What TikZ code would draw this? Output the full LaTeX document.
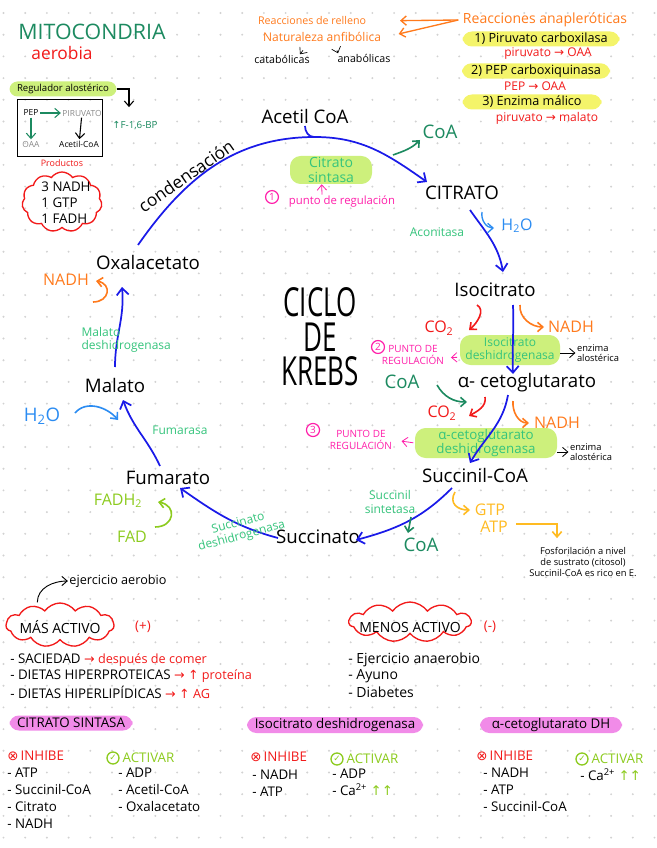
\documentclass[tikz,border=0pt]{standalone}
\usepackage{fontspec}
\usepackage{graphicx}
\setmainfont{Open Sans}
\newfontfamily\symfont{DejaVu Sans}
\usetikzlibrary{positioning,arrows.meta,shapes.symbols}

\definecolor{verdetit}{HTML}{1C8A60}
\definecolor{rojo}{HTML}{F21A1A}
\definecolor{naranja}{HTML}{FF7A1C}
\definecolor{azul}{HTML}{1A1AE8}
\definecolor{azulagua}{HTML}{2B8CF2}
\definecolor{verdeenz}{HTML}{35C47C}
\definecolor{lima}{HTML}{CDF07C}
\definecolor{limaosc}{HTML}{8CCB1E}
\definecolor{amarillo}{HTML}{F4F46A}
\definecolor{rosa}{HTML}{F18BE8}
\definecolor{magenta}{HTML}{FF1FAA}
\definecolor{oro}{HTML}{FFBB22}
\definecolor{puntos}{HTML}{D2D2D2}
\definecolor{gris}{HTML}{8A8A8A}

\newdimen\pxu \pxu=0.75pt
\newcommand{\fl}{{\symfont →}}
\newcommand{\sube}{{\symfont ↑}}
\newcommand{\inhibe}{{\symfont ⊗}}

\begin{document}
\begin{tikzpicture}[x=0.75pt,y=-0.75pt,>={Straight Barb[length=4pt,width=7pt]},
  met/.style={font=\fontsize{14}{16}\selectfont, inner sep=1pt},
  enz/.style={text=verdeenz, font=\fontsize{9}{10}\selectfont, align=center, inner sep=1pt},
  nota/.style={font=\fontsize{7}{8}\selectfont, align=left, inner sep=1pt},
  mini/.style={font=\fontsize{6.3}{7}\selectfont, inner sep=1pt},
  reg/.style={text=magenta, font=\fontsize{7.5}{8.5}\selectfont, align=center, inner sep=1pt},
  numreg/.style={circle, draw=magenta, text=magenta, line width=0.9pt, inner sep=1pt, font=\fontsize{7.5}{8}\selectfont},
  resalta/.style={fill=lima, rounded corners=8pt, text=verdeenz, align=center, inner sep=1pt},
  amar/.style={fill=amarillo, rounded corners=7pt, inner sep=1pt, font=\fontsize{9.5}{10}\selectfont},
  rosahl/.style={fill=rosa, rounded corners=7pt, inner sep=1pt, font=\fontsize{10}{11}\selectfont},
  ciclo/.style={draw=azul, line width=1.3pt, -{Straight Barb[length=5pt,width=9pt]}},
  flecha/.style={line width=1.2pt, ->},
  nube/.style={cloud, draw=rojo, line width=1pt, cloud puffs=11, cloud puff arc=110, cloud ignores aspect, inner sep=0pt},
  lista/.style={font=\fontsize{10}{12.75}\selectfont, align=left, anchor=west, inner sep=0pt},
  chk/.style={circle, draw=limaosc, text=limaosc, line width=1pt, inner sep=0pt, minimum size=9pt, font=\symfont\fontsize{6.5}{7}\selectfont}]
\fill[white, use as bounding box] (0,0) rectangle (656,848);

% dotted paper
\foreach \i in {0,...,30}
  \foreach \j in {0,...,38}
    \fill[puntos] (3.5+21.7*\i,13+21.7*\j) circle (0.8pt);

% title
\node[text=verdetit, font=\fontsize{16}{18}\selectfont] (mito) at (92,32) {MITOCONDRIA};
\node[text=rojo, font=\fontsize{13}{15}\selectfont] (aerobia) at (62,53) {aerobia};

% allosteric regulator box
\node[fill=lima, rounded corners=6pt, minimum width=107\pxu, minimum height=15\pxu, inner sep=1pt, font=\fontsize{7.2}{8}\selectfont] (regalo) at (63,89) {Regulador alostérico};
\node[draw, line width=0.9pt, minimum width=85\pxu, minimum height=57\pxu] (caja) at (60,128) {};
\node[mini] (pep) at (31,113) {PEP};
\node[mini, text=gris] (piru) at (82,113) {PIRUVATO};
\node[mini, text=gris] (oaa) at (31,144) {OAA};
\node[mini] (acoa) at (79,144) {Acetil-CoA};
\draw[->, verdetit, line width=0.8pt] (pep) -- (piru);
\draw[->, verdetit, line width=0.8pt] (pep) -- (oaa);
\draw[->, line width=0.8pt] (piru) -- (acoa);
\node[text=verdetit, font=\fontsize{7.3}{8}\selectfont] (fbp) at (135,126) {\sube F-1,6-BP};
\draw[->, line width=0.8pt] (regalo.east) -| ([shift={(-6,-10)}]fbp.north);

\node[text=rojo, font=\fontsize{6.7}{7}\selectfont] (productos) at (62,163) {Productos};
\node[nube, minimum width=80\pxu, minimum height=60\pxu] (nprod) at (62,202) {};
\node[align=left, font=\fontsize{10}{12}\selectfont, inner sep=0pt] (prod) at (66,203) {3 NADH\\1 GTP\\1 FADH};

% anaplerotic reactions
\node[text=naranja, font=\fontsize{8}{9}\selectfont] (relleno) at (312,21) {Reacciones de relleno};
\node[text=naranja, font=\fontsize{9}{10}\selectfont] (anfi) at (322,37) {Naturaleza anfibólica};
\node[text=naranja, font=\fontsize{10.5}{12}\selectfont] (anaple) at (545,20) {Reacciones anapleróticas};
\draw[->, naranja, line width=1pt, shorten >=22pt] (anaple.west) -- (relleno.east);
\draw[->, naranja, line width=1pt, shorten >=10pt] (anaple.west) -- (anfi.east);
\node[font=\fontsize{8}{9}\selectfont, inner sep=1pt] (cata) at (282,59) {catabólicas};
\node[font=\fontsize{8}{9}\selectfont, inner sep=1pt] (ana) at (364,58) {anabólicas};
\draw[->, line width=0.5pt] ([shift={(-19,4)}]anfi.south) -- ([shift={(18,1)}]cata.north);
\draw[->, line width=0.5pt] ([shift={(15,4)}]anfi.south) -- ([shift={(-26,1)}]ana.north);

\node[amar, minimum width=157\pxu, minimum height=15\pxu] (pc) at (541,39) {1) Piruvato carboxilasa};
\node[text=rojo, font=\fontsize{9}{10}\selectfont] (pcr) at (548,54) {piruvato \fl{} OAA};
\node[amar, minimum width=148\pxu, minimum height=15\pxu] (pepck) at (536,71) {2) PEP carboxiquinasa};
\node[text=rojo, font=\fontsize{9}{10}\selectfont] (pepckr) at (535,86) {PEP \fl{} OAA};
\node[amar, minimum width=139\pxu, minimum height=15\pxu] (malico) at (532,102) {3) Enzima málico};
\node[text=rojo, font=\fontsize{9}{10}\selectfont] (malicor) at (547,118) {piruvato \fl{} malato};

% enzyme highlights
\node[resalta, minimum width=82\pxu, minimum height=28\pxu, font=\fontsize{10.5}{11}\selectfont] (cs) at (331,170) {Citrato\\sintasa};
\node[resalta, minimum width=100\pxu, minimum height=30\pxu, font=\fontsize{9}{10}\selectfont] (idh) at (510,350) {Isocitrato\\deshidrogenasa};
\node[resalta, minimum width=142\pxu, minimum height=28\pxu, font=\fontsize{10}{10.5}\selectfont] (adh) at (486,443) {α-cetoglutarato\\deshidrogenasa};

% intermediates
\node[met] (acetil) at (305,117) {Acetil CoA};
\node[met] (citrato) at (462,193) {CITRATO};
\node[met] (isocit) at (495,290) {Isocitrato};
\node[met] (aceto) at (527,383) {α- cetoglutarato};
\node[met] (succoa) at (475,475) {Succinil-CoA};
\node[met] (succ) at (318,537) {Succinato};
\node[met] (fum) at (168,478) {Fumarato};
\node[met] (mal) at (115,385) {Malato};
\node[met] (oxa) at (148,263) {Oxalacetato};

\node[font=\fontsize{30}{26}\selectfont, align=center, inner sep=0pt] (krebs) at (320,337) {\scalebox{0.65}[1]{CICLO}\\\scalebox{0.65}[1]{DE}\\\scalebox{0.65}[1]{KREBS}};
\node[font=\fontsize{13}{14}\selectfont, rotate=35] (cond) at (186,176) {condensación};

% cycle
\draw[ciclo] ([shift={(-10,-18)}]oxa.center) to[out=55,in=180] ([shift={(10,20)}]acetil.center) to[out=0,in=145] ([shift={(-35,-11)}]citrato.center);
\draw[azul, line width=1.3pt] ([shift={(0,9)}]acetil.center) to[out=-90,in=180] ([shift={(9,20)}]acetil.center);
\draw[ciclo] ([shift={(8,17)}]citrato.center) to[out=-55,in=100] ([shift={(8,-18)}]isocit.center);
\draw[ciclo] ([shift={(18,15)}]isocit.center) to[out=-88,in=92] ([shift={(-14,-9)}]aceto.center);
\draw[ciclo] ([shift={(-19,12)}]aceto.center) to[out=-100,in=60] ([shift={(-5,-12)}]succoa.center);
\draw[ciclo] ([shift={(-23,13)}]succoa.center) to[out=-135,in=15] ([shift={(38,3)}]succ.center);
\draw[ciclo] ([shift={(-40,1)}]succ.center) to[out=165,in=-35] ([shift={(12,10)}]fum.center);
\draw[ciclo] ([shift={(-8,-12)}]fum.center) to[out=115,in=-70] ([shift={(8,15)}]mal.center);
\draw[ciclo] ([shift={(0,-18)}]mal.center) to[out=90,in=-85] ([shift={(-26,24)}]oxa.center);

% step 1
\node[met, text=verdetit] (coa1) at (440,132) {CoA};
\draw[flecha, verdetit] ([shift={(-47,23)}]coa1.center) to[out=20,in=-135] ([shift={(-20,8)}]coa1.center);
\node[numreg] (r1) at (272,197) {1};
\node[text=magenta, font=\fontsize{8.5}{9}\selectfont, inner sep=1pt] (pr1) at (342,202) {punto de regulación};
\draw[->, magenta, line width=0.6pt] ([xshift=-15pt]pr1.north) -- ([xshift=-7pt]cs.south);

% step 2
\node[enz] (aconit) at (437,232) {Aconitasa};
\node[text=azulagua, font=\fontsize{12}{13}\selectfont] (h2o1) at (517,226) {H\textsubscript{2}O};
\draw[flecha, azulagua, line width=1pt] ([shift={(-35,-14)}]h2o1.center) to[out=-100,in=180] ([shift={(-23,2)}]h2o1.center);

% step 3
\node[text=rojo, font=\fontsize{12}{13}\selectfont] (co2a) at (439,328) {CO\textsubscript{2}};
\draw[flecha, rojo] ([shift={(-18,15)}]isocit.center) to[out=-30,in=40] ([shift={(30,2)}]co2a.center);
\node[text=naranja, font=\fontsize{12}{13}\selectfont] (nadh1) at (571,327) {NADH};
\draw[flecha, naranja] ([shift={(25,15)}]isocit.center) to[out=-95,in=180] ([shift={(-27,0)}]nadh1.center);
\node[nota] (alo1) at (598,353) {enzima\\alostérica};
\draw[->, line width=0.6pt] (alo1.west -| idh.east) -- (alo1.west);
\node[numreg] (r2) at (378,347) {2};
\node[reg] (pr2) at (413,355) {PUNTO DE\\REGULACIÓN};
\draw[->, magenta, line width=0.6pt, shorten <=2pt, shorten >=4pt] ([yshift=6pt]idh.south west) -- ([yshift=-2pt]pr2.east);

% step 4
\node[met, text=verdetit] (coa2) at (402,382) {CoA};
\draw[flecha, verdetit] ([shift={(35,3)}]coa2.center) to[out=-60,in=180] ([shift={(65,20)}]coa2.center);
\node[text=rojo, font=\fontsize{12}{13}\selectfont] (co2b) at (442,413) {CO\textsubscript{2}};
\draw[flecha, rojo] ([shift={(-42,14)}]aceto.center) to[out=-80,in=30] ([shift={(27,3)}]co2b.center);
\node[text=naranja, font=\fontsize{12}{13}\selectfont] (nadh2) at (557,423) {NADH};
\draw[flecha, naranja] ([shift={(-14,18)}]aceto.center) to[out=-95,in=180] ([shift={(-28,0)}]nadh2.center);
\node[nota] (alo2) at (591,452) {enzima\\alostérica};
\draw[->, line width=0.6pt] (alo2.west -| adh.east) -- (alo2.west);
\node[numreg] (r3) at (313,430) {3};
\node[reg] (pr3) at (361,440) {PUNTO DE\\REGULACIÓN};
\draw[->, magenta, line width=0.6pt, shorten <=1pt, shorten >=6pt] (adh.west) -- (pr3.east);

% step 5
\node[enz] (sucsint) at (390,502) {Succinil\\sintetasa};
\node[met, text=verdetit] (coa3) at (421,545) {CoA};
\draw[flecha, verdetit] ([shift={(-10,-28)}]coa3.center) -- ([shift={(-13,-12)}]coa3.center);
\node[text=oro, font=\fontsize{12}{13}\selectfont] (gtp) at (490,510) {GTP};
\node[text=oro, font=\fontsize{12}{13}\selectfont] (atp) at (494,527) {ATP};
\draw[flecha, oro] ([shift={(-20,17)}]succoa.center) to[out=-120,in=180,looseness=1.4] ([shift={(-20,0)}]gtp.center);
\node[nota, align=center] (fosf) at (583,562) {Fosforilación a nivel\\de sustrato (citosol)\\Succinil-CoA es rico en E.};
\draw[flecha, oro] ([shift={(4,-3)}]atp.east) -| ([shift={(-26,-8)}]fosf.north);

% step 6
\node[enz, rotate=15] (sdh) at (240,530) {Succinato\\deshidrogenasa};
\node[text=limaosc, font=\fontsize{12}{13}\selectfont] (fadh2) at (118,501) {FADH\textsubscript{2}};
\node[text=limaosc, font=\fontsize{12}{13}\selectfont] (fad) at (132,537) {FAD};
\draw[flecha, limaosc] ([shift={(23,-10)}]fad.center) to[out=0,in=-10,looseness=2] ([shift={(40,1)}]fadh2.center);

% step 7
\node[enz] (fumarasa) at (180,430) {Fumarasa};
\node[text=azulagua, font=\fontsize{14}{15}\selectfont] (h2o2) at (42,416) {H\textsubscript{2}O};
\draw[flecha, azulagua] ([shift={(33,-3)}]h2o2.center) to[out=50,in=130] ([shift={(76,4)}]h2o2.center);

% step 8
\node[enz, align=left, anchor=west] (mdh) at (80,340) {Malato\\deshidrogenasa};
\node[text=naranja, font=\fontsize{12}{13}\selectfont] (nadh3) at (66,280) {NADH};
\draw[flecha, naranja] ([shift={(27,22)}]nadh3.center) to[out=0,in=-10,looseness=2] ([shift={(30,1)}]nadh3.center);

% regulation of activity
\node[font=\fontsize{9.5}{10}\selectfont, inner sep=1pt] (ejer) at (118,581) {ejercicio aerobio};
\node[nube, minimum width=108\pxu, minimum height=44\pxu] (nmas) at (60,625) {};
\node[font=\fontsize{10.5}{11}\selectfont, inner sep=0pt] (masact) at (60,627) {MÁS ACTIVO};
\draw[->, line width=0.7pt] ([xshift=-17pt]nmas.north) to[out=90,in=180] (ejer.west);
\node[text=rojo, font=\fontsize{10}{11}\selectfont] (mas) at (143,627) {(+)};
\node[lista] (l1) at (10,660) {- SACIEDAD \textcolor{rojo}{\fontsize{9.5}{10}\selectfont\fl{} después de comer}};
\node[lista] (l2) at (10,676) {- DIETAS HIPERPROTEICAS \textcolor{rojo}{\fontsize{9.5}{10}\selectfont\fl{} \sube{} proteína}};
\node[lista] (l3) at (10,692) {- DIETAS HIPERLIPÍDICAS \textcolor{rojo}{\fontsize{9.5}{10}\selectfont\fl{} \sube{} AG}};

\node[nube, minimum width=122\pxu, minimum height=40\pxu] (nmenos) at (410,622) {};
\node[font=\fontsize{10.5}{11}\selectfont, inner sep=0pt] (menact) at (410,627) {MENOS ACTIVO};
\node[text=rojo, font=\fontsize{10}{11}\selectfont] (menos) at (490,627) {(-)};
\node[lista, font=\fontsize{10.5}{12}\selectfont] (m1) at (348,660) {- Ejercicio anaerobio};
\node[lista, font=\fontsize{10.5}{12}\selectfont] (m2) at (348,676) {- Ayuno};
\node[lista, font=\fontsize{10.5}{12}\selectfont] (m3) at (348,692) {- Diabetes};

% regulated enzymes
\node[rosahl, minimum width=123\pxu, minimum height=15\pxu] (t1) at (71,723) {CITRATO SINTASA};
\node[rosahl, minimum width=176\pxu, minimum height=15\pxu] (t2) at (335,725) {Isocitrato deshidrogenasa};
\node[rosahl, minimum width=142\pxu, minimum height=15\pxu] (t3) at (551,725) {α-cetoglutarato DH};

\node[text=rojo, font=\fontsize{10}{11}\selectfont, anchor=west, inner sep=0pt] (inh1) at (7,756) {\inhibe\,INHIBE};
\node[lista] (inh1l) at (7,798) {- ATP\\- Succinil-CoA\\- Citrato\\- NADH};
\node[chk] (ck1) at (113,758) {✓};
\node[text=limaosc, font=\fontsize{10}{11}\selectfont, right=2pt of ck1, inner sep=0pt] (act1) {ACTIVAR};
\node[lista] (act1l) at (118,790) {- ADP\\- Acetil-CoA\\- Oxalacetato};

\node[text=rojo, font=\fontsize{10}{11}\selectfont, anchor=west, inner sep=0pt] (inh2) at (250,757) {\inhibe\,INHIBE};
\node[lista] (inh2l) at (252,783) {- NADH\\- ATP};
\node[chk] (ck2) at (337,759) {✓};
\node[text=limaosc, font=\fontsize{10}{11}\selectfont, right=2pt of ck2, inner sep=0pt] (act2) {ACTIVAR};
\node[lista] (act2l) at (332,782) {- ADP\\- Ca\textsuperscript{2+} \textcolor{limaosc}{\sube\sube}};

\node[text=rojo, font=\fontsize{10}{11}\selectfont, anchor=west, inner sep=0pt] (inh3) at (476,756) {\inhibe\,INHIBE};
\node[lista] (inh3l) at (483,790) {- NADH\\- ATP\\- Succinil-CoA};
\node[chk] (ck3) at (582,759) {✓};
\node[text=limaosc, font=\fontsize{10}{11}\selectfont, right=2pt of ck3, inner sep=0pt] (act3) {ACTIVAR};
\node[lista] (act3l) at (580,775) {- Ca\textsuperscript{2+} \textcolor{limaosc}{\sube\sube}};
\end{tikzpicture}
\end{document}
